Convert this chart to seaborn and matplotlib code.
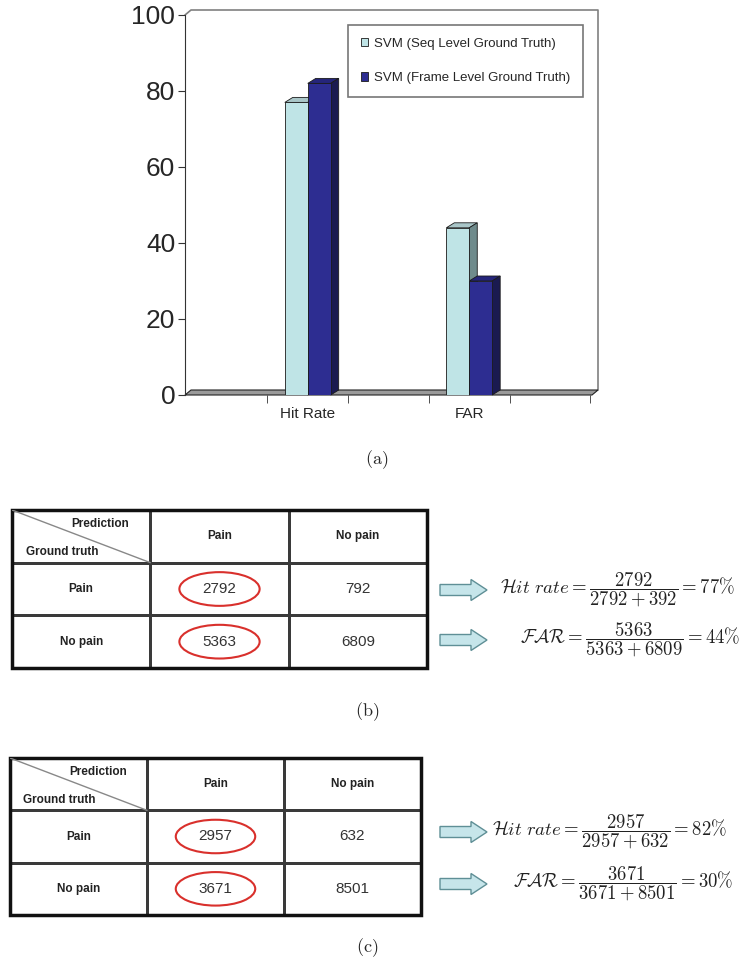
import numpy as np
import pandas as pd
import matplotlib
matplotlib.use('Agg')
import matplotlib.pyplot as plt
import seaborn as sns
from matplotlib.colors import ListedColormap
from matplotlib.patches import Polygon, Rectangle, Ellipse, FancyArrow
from matplotlib.lines import Line2D
from matplotlib.transforms import IdentityTransform

# ---- data ----
metrics = ['Hit Rate', 'FAR']
methods = ['SVM (Seq Level Ground Truth)', 'SVM (Frame Level Ground Truth)']
seq_level = [77, 44]
frame_level = [82, 30]
y_ticks = [0, 20, 40, 60, 80, 100]

row_labels = ['Pain', 'No pain']
col_labels = ['Pain', 'No pain']
counts_seq = [[2792, 792], [5363, 6809]]
counts_frame = [[2957, 632], [3671, 8501]]

formulas_seq = [r'$\mathcal{H}it\ rate = \dfrac{2792}{2792 + 392} = 77\%$',
                r'$\mathcal{FAR} = \dfrac{5363}{5363 + 6809} = 44\%$']
formulas_frame = [r'$\mathcal{H}it\ rate = \dfrac{2957}{2957 + 632} = 82\%$',
                  r'$\mathcal{FAR} = \dfrac{3671}{3671 + 8501} = 30\%$']

LIGHT, DARK = '#bfe4e6', '#2d2d91'
LIGHT_TOP, DARK_TOP = '#a9c6c8', '#25257a'
LIGHT_SIDE, DARK_SIDE = '#6f8b8c', '#1a1a50'

sns.set_style('ticks')
plt.rcParams['font.family'] = ['Liberation Sans', 'DejaVu Sans']
plt.rcParams['mathtext.fontset'] = 'cm'

fig = plt.figure(figsize=(7.5, 9.73), dpi=100)

# ---- (a) bar chart ----
df = pd.DataFrame({'metric': metrics * 2,
                   'method': [methods[0]] * 2 + [methods[1]] * 2,
                   'value': seq_level + frame_level})

ax = fig.add_axes([185 / 750, 1 - 395 / 973, 407 / 750, 380 / 973])
ax.set_facecolor('none')
sns.barplot(data=df, x='metric', y='value', hue='method', palette=[LIGHT, DARK],
            width=0.284, gap=0, saturation=1, edgecolor='#1a1a1a', linewidth=0.6,
            ax=ax, zorder=3)
ax.set_xlim(-0.76, 1.76)
ax.set_ylim(0, 100)
ax.set_xlabel('')
ax.set_ylabel('')

for s in ['top', 'right', 'bottom']:
    ax.spines[s].set_visible(False)
ax.spines['left'].set_color('#333333')

ax.set_yticks(y_ticks)
ax.tick_params(axis='y', labelsize=19, length=5, pad=2, color='#333333', left=True)
ax.set_xticks([0, 1])
ax.set_xticklabels(metrics, fontsize=11)
ax.set_xticks(np.arange(-0.25, 1.8, 0.5), minor=True)
ax.tick_params(axis='x', which='major', length=0, pad=9)
ax.tick_params(axis='x', which='minor', length=6, color='#333333', bottom=True)

# 3D look: floor, back wall, bar tops and sides
WDX, WDY = 6, 5
BDX, BDY = 8, 5
x0p, y0p = ax.transAxes.transform((0, 0))
x1p, y1p = ax.transAxes.transform((1, 1))
floor = [(x0p, y0p), (x1p, y0p), (x1p + WDX, y0p + WDY), (x0p + WDX, y0p + WDY)]
ax.add_patch(Polygon(floor, closed=True, transform=IdentityTransform(), fc='#9a9a9a',
                     ec='#222222', lw=0.8, zorder=1, clip_on=False))
wall = [(x0p, y1p), (x0p + WDX, y1p + WDY), (x1p + WDX, y1p + WDY), (x1p + WDX, y0p + WDY)]
ax.add_line(Line2D([p[0] for p in wall], [p[1] for p in wall], transform=IdentityTransform(),
                   color='#808080', lw=1.2, zorder=0.5, clip_on=False))

for container, top_c, side_c in zip(ax.containers, [LIGHT_TOP, DARK_TOP], [LIGHT_SIDE, DARK_SIDE]):
    for bar in container:
        bx, bw, bh = bar.get_x(), bar.get_width(), bar.get_height()
        l, b = ax.transData.transform((bx, 0))
        r, t = ax.transData.transform((bx + bw, bh))
        top = [(l, t), (r, t), (r + BDX, t + BDY), (l + BDX, t + BDY)]
        side = [(r, b), (r, t), (r + BDX, t + BDY), (r + BDX, b + BDY)]
        for pts, c in ((top, top_c), (side, side_c)):
            ax.add_patch(Polygon(pts, closed=True, transform=IdentityTransform(), fc=c,
                                 ec='#1a1a1a', lw=0.6, zorder=2, clip_on=False))

handles, labels = ax.get_legend_handles_labels()
leg = ax.legend(handles, labels, loc='upper left', bbox_to_anchor=(348 / 750, 1 - 25 / 973),
                bbox_transform=fig.transFigure, frameon=True, fancybox=False,
                edgecolor='#555555', fontsize=9.5, handlelength=0.6, handleheight=0.6,
                handletextpad=0.4, labelspacing=1.7, borderpad=0.95, borderaxespad=0)
leg.get_frame().set_linewidth(1.2)


# ---- (b), (c) confusion tables ----
def draw_table(rect, counts):
    a = fig.add_axes(rect)
    annot = np.array([[''] + col_labels] +
                     [[row_labels[i]] + [str(v) for v in counts[i]] for i in range(2)], dtype=object)
    cells = np.zeros((3, 3))
    sns.heatmap(cells, ax=a, cmap=ListedColormap(['white']), cbar=False, annot=annot, fmt='',
                linewidths=1, linecolor='#3a3a3a', xticklabels=False, yticklabels=False)
    for t in a.texts:
        if t.get_text().isdigit():
            t.set_fontsize(11)
            t.set_color('#333333')
        else:
            t.set_fontsize(8.5)
            t.set_fontweight('bold')
            t.set_color('#222222')
    a.plot([0, 1], [0, 1], color='#888888', lw=1)
    a.text(0.64, 0.26, 'Prediction', fontsize=8.5, fontweight='bold', color='#222222',
           ha='center', va='center')
    a.text(0.36, 0.8, 'Ground truth', fontsize=8.5, fontweight='bold', color='#222222',
           ha='center', va='center')
    for r in range(2):
        a.add_patch(Ellipse((1.5, r + 1.5), 0.58, 0.64, fill=False, ec='#d9302c', lw=1.5))
    a.add_patch(Rectangle((0, 0), 1, 1, transform=a.transAxes, fill=False, lw=2.5,
                          ec='#111111', clip_on=False))
    return a


draw_table([12 / 750, 1 - 668 / 973, 415 / 750, 158 / 973], counts_seq)
draw_table([10 / 750, 1 - 915 / 973, 411 / 750, 157 / 973], counts_frame)

# ---- overlay: formulas, arrows, panel labels ----
ov = fig.add_axes([0, 0, 1, 1])
ov.set_xlim(0, 750)
ov.set_ylim(973, 0)
ov.axis('off')

for (fx, fy, txt) in [(735, 590, formulas_seq[0]), (740, 640, formulas_seq[1]),
                      (727, 832, formulas_frame[0]), (733, 884, formulas_frame[1])]:
    ov.add_patch(FancyArrow(440, fy, 47, 0, width=11, head_width=21, head_length=16,
                            length_includes_head=True, fc='#c6e5ea', ec='#5f8f96', lw=1))
    ov.text(fx, fy, txt, fontsize=13.5, ha='right', va='center', color='#222222')

for lx, ly, lab in [(377, 460, '(a)'), (367, 712, '(b)'), (367, 948, '(c)')]:
    ov.text(lx, ly, r'$\mathrm{' + lab + '}$', fontsize=13, ha='center', va='center')

fig.savefig('out.png', dpi=100)
